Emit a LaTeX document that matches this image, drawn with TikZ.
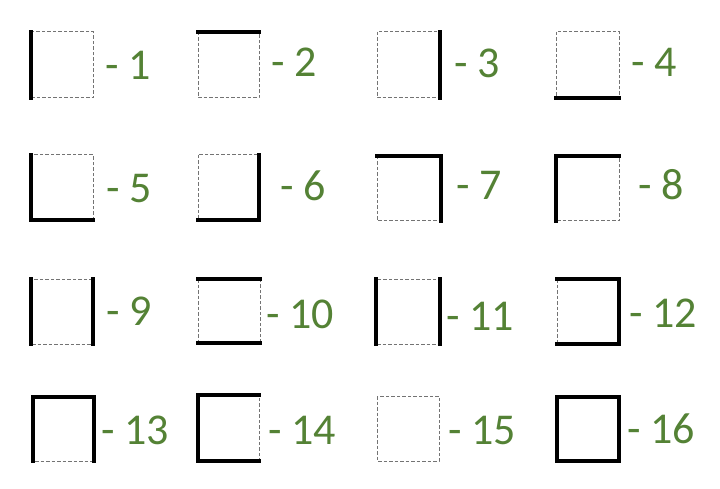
\documentclass[tikz,border=0pt]{standalone}
\usepackage{fontspec}
\setmainfont{Carlito}
\definecolor{lbl}{HTML}{548235}
\tikzset{
  wall/.style={line width=4.3pt, line cap=rect, black},
  gap/.style={draw=black!55, line width=1pt, dash pattern=on 3.5pt off 2pt},
  lab/.style={text=lbl, font=\fontsize{44}{52}\selectfont, inner sep=0pt, anchor=base west}
}
\newcommand\mycell[4]{\draw[gap] (#1,#2) rectangle (#3,#4);}
\begin{document}
\begin{tikzpicture}[x=1pt,y=-1pt]
\useasboundingbox[fill=white] (0,0) rectangle (720,489);
% row 1
\mycell{31}{32}{93}{98}   \draw[wall] (31,32)--(31,98);
\mycell{198}{32}{259}{98} \draw[wall] (198,32)--(259,32);
\mycell{377}{32}{440}{98} \draw[wall] (440,32)--(440,98);
\mycell{556}{32}{619}{98} \draw[wall] (556,98)--(619,98);
% row 2
\mycell{31}{155}{93}{220}  \draw[wall] (31,155)--(31,220)--(93,220);
\mycell{198}{155}{259}{220} \draw[wall] (259,155)--(259,220)--(198,220);
\mycell{377}{156}{441}{221} \draw[wall] (377,156)--(441,156)--(441,221);
\mycell{556}{156}{619}{221} \draw[wall] (556,221)--(556,156)--(619,156);
% row 3
\mycell{31}{279}{93}{344}  \draw[wall] (31,279)--(31,344) (93,279)--(93,344);
\mycell{198}{279}{260}{343} \draw[wall] (198,279)--(260,279) (198,343)--(260,343);
\mycell{376}{279}{440}{344} \draw[wall] (376,279)--(376,344) (440,279)--(440,344);
\mycell{557}{279}{619}{344} \draw[wall] (557,279)--(619,279)--(619,344)--(557,344);
% row 4
\mycell{33}{397}{94}{461}  \draw[wall] (33,461)--(33,397)--(94,397)--(94,461);
\mycell{198}{395}{259}{461} \draw[wall] (259,395)--(198,395)--(198,461)--(259,461);
\mycell{377}{396}{439}{461}
\draw[wall] (557,397) rectangle (619,461);
% labels
\node[lab] (l1)  at (105,80)  {- 1};
\node[lab] (l2)  at (271,77)  {- 2};
\node[lab] (l3)  at (454,78)  {- 3};
\node[lab] (l4)  at (631,77)  {- 4};
\node[lab] (l5)  at (106,203) {- 5};
\node[lab] (l6)  at (280,201) {- 6};
\node[lab] (l7)  at (456,200) {- 7};
\node[lab] (l8)  at (638,200) {- 8};
\node[lab] (l9)  at (106,325) {- 9};
\node[lab] (l10) at (266,328) {- 10};
\node[lab] (l11) at (446,330) {- 11};
\node[lab] (l12) at (629,327) {- 12};
\node[lab] (l13) at (101,444) {- 13};
\node[lab] (l14) at (268,444) {- 14};
\node[lab] (l15) at (448,444) {- 15};
\node[lab] (l16) at (627,443) {- 16};
\end{tikzpicture}
\end{document}
